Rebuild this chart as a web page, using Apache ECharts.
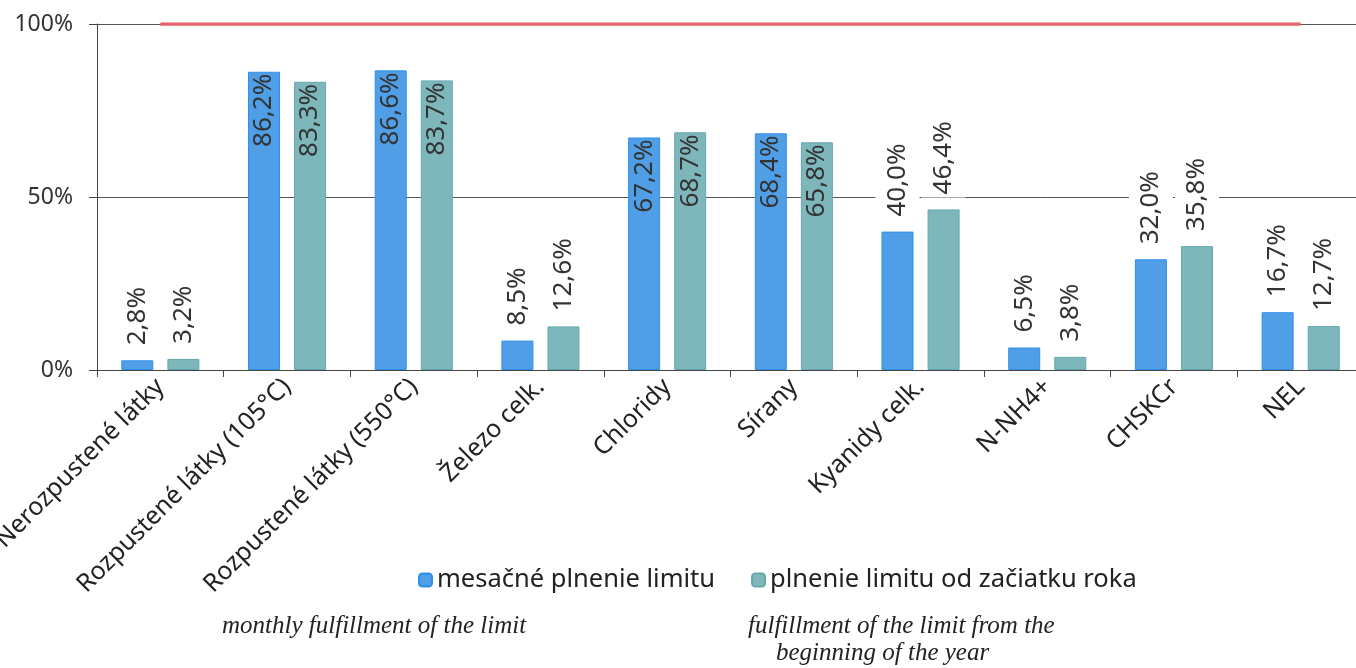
<!DOCTYPE html>
<html>
<head>
<meta charset="utf-8">
<script src="https://cdn.jsdelivr.net/npm/echarts@6/dist/echarts.min.js"></script>
<style>
html,body{margin:0;padding:0;background:#fff;overflow:hidden;width:1356px;height:668px;}
#c{width:1372px;height:668px;}
</style>
</head>
<body>
<div id="c"></div>
<script>
const categories = ['Nerozpustené látky','Rozpustené látky (105°C)','Rozpustené látky (550°C)','Železo celk.','Chloridy','Sírany','Kyanidy celk.','N-NH4+','CHSKCr','NEL'];
const monthly = [2.8, 86.2, 86.6, 8.5, 67.2, 68.4, 40.0, 6.5, 32.0, 16.7];
const fromYear = [3.2, 83.3, 83.7, 12.6, 68.7, 65.8, 46.4, 3.8, 35.8, 12.7];
const limitLine = [100, 100, 100, 100, 100, 100, 100, 100, 100, 100];
const yTicks = [0, 50, 100];
const seriesNames = ['mesačné plnenie limitu', 'plnenie limitu od začiatku roka'];
const englishNotes = ['monthly fulfillment of the limit', 'fulfillment of the limit from the', 'beginning of the year'];

const FONT = 'Noto Sans';
function fmt(v){ return v.toFixed(1).replace('.', ',') + '%'; }
function barData(arr){
  return arr.map(v => {
    const inside = v >= 60;
    return {
      value: v,
      label: inside ? {
        position: 'insideTop', distance: 2, align: 'right', verticalAlign: 'middle',
        backgroundColor: 'transparent', padding: 0
      } : {
        position: 'top', distance: 12, align: 'left', verticalAlign: 'middle',
        backgroundColor: '#ffffff', padding: [9, 3]
      }
    };
  });
}
const labelBase = {
  show: true, rotate: 90, fontFamily: FONT, fontSize: 26, color: '#333',
  formatter: p => fmt(p.value)
};

const chart = echarts.init(document.getElementById('c'));
chart.setOption({
  backgroundColor: '#fff',
  animation: false,
  grid: { left: 97, top: 24, width: 1267, height: 346, containLabel: false, outerBoundsMode: 'none' },
  legend: {
    left: 413, top: 562, itemWidth: 13, itemHeight: 13, itemGap: 36,
    textStyle: { fontFamily: FONT, fontSize: 25.5, color: '#222' },
    data: seriesNames
  },
  xAxis: {
    type: 'category', data: categories,
    axisLine: { lineStyle: { color: '#444', width: 1 } },
    axisTick: { show: true, alignWithLabel: false, length: 7, lineStyle: { color: '#444' } },
    axisLabel: { rotate: 45, interval: 0, margin: 13, fontFamily: FONT, fontSize: 25, color: '#222' }
  },
  yAxis: {
    type: 'value', min: 0, max: 100, interval: 50,
    axisLine: { show: true, lineStyle: { color: '#444', width: 1 } },
    axisTick: { show: true, length: 8, lineStyle: { color: '#444' } },
    axisLabel: { formatter: '{value}%', fontFamily: FONT, fontSize: 23, color: '#333', margin: 24 },
    splitLine: { show: true, lineStyle: { color: '#555', width: 1 } }
  },
  series: [
    {
      name: seriesNames[0], type: 'bar', data: barData(monthly),
      barWidth: 32, barGap: '44%',
      itemStyle: { color: '#4f9ee6', borderColor: '#2f90ea', borderWidth: 1 },
      label: labelBase, z: 2
    },
    {
      name: seriesNames[1], type: 'bar', data: barData(fromYear),
      barWidth: 32,
      itemStyle: { color: '#7db7bc', borderColor: '#64a8ad', borderWidth: 1 },
      label: labelBase, z: 2
    },
    {
      name: 'limit', type: 'line', data: limitLine, showSymbol: false, symbol: 'none',
      lineStyle: { color: '#e8646b', width: 3.5 }, z: 3, silent: true
    }
  ],
  graphic: [
    { type: 'text', left: 222, top: 614, style: { text: englishNotes[0], fontFamily: 'Liberation Serif', fontStyle: 'italic', fontSize: 25, fill: '#222' } },
    { type: 'text', left: 748, top: 614, style: { text: englishNotes[1], fontFamily: 'Liberation Serif', fontStyle: 'italic', fontSize: 25, fill: '#222' } },
    { type: 'text', left: 776, top: 641, style: { text: englishNotes[2], fontFamily: 'Liberation Serif', fontStyle: 'italic', fontSize: 25, fill: '#222' } }
  ]
});
</script>
</body>
</html>
